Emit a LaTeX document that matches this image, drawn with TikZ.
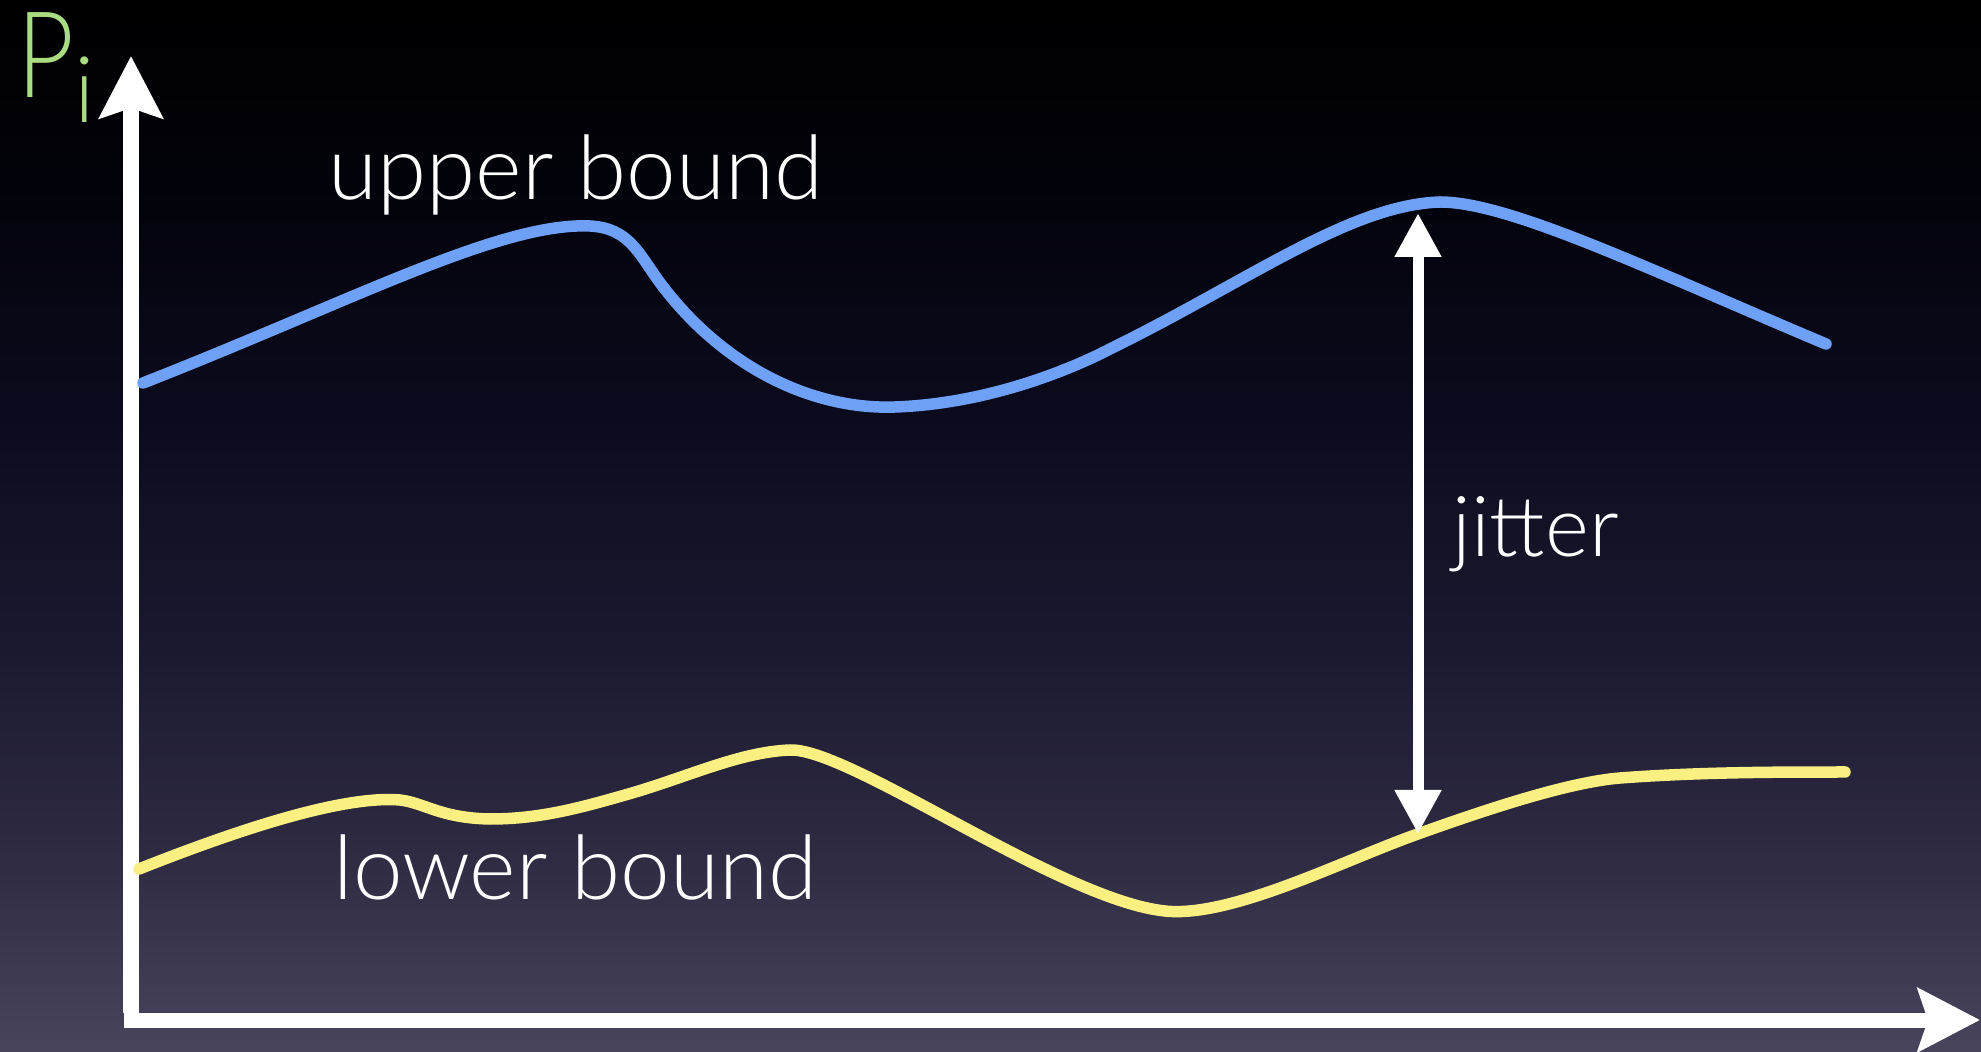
\documentclass[tikz,border=0pt]{standalone}
\usepackage{fontspec}
\setmainfont{Lato}[UprightFont=* Light]
\usetikzlibrary{arrows.meta}

\definecolor{bgA}{RGB}{0,0,0}
\definecolor{bgB}{RGB}{2,2,10}
\definecolor{bgC}{RGB}{12,11,30}
\definecolor{bgD}{RGB}{27,25,47}
\definecolor{bgE}{RGB}{45,42,66}
\definecolor{bgF}{RGB}{72,68,92}
\definecolor{upcol}{RGB}{110,160,245}
\definecolor{lowcol}{RGB}{250,240,130}
\definecolor{pcol}{RGB}{170,220,130}

\tikzset{
  axis/.style={draw=white, line width=8pt, -{Stealth[length=31pt,width=31.5pt,inset=5pt]}},
  span/.style={draw=white, line width=5.5pt, {Triangle[length=22pt,width=22pt]}-{Triangle[length=22pt,width=22pt]}},
  bound/.style={line width=5.75pt, line cap=round},
  label/.style={text=white, inner sep=0pt, anchor=base west},
}

\begin{document}
\begin{tikzpicture}[x=0.5pt,y=-0.5pt]
  \useasboundingbox (0,0) rectangle (1981,1052);
  % background: black at the top fading into a dusky violet
  \fill[top color=bgA, bottom color=bgB] (0,0) rectangle (1981,181);
  \fill[top color=bgB, bottom color=bgC] (0,180) rectangle (1981,421);
  \fill[top color=bgC, bottom color=bgD] (0,420) rectangle (1981,651);
  \fill[top color=bgD, bottom color=bgE] (0,650) rectangle (1981,851);
  \fill[top color=bgE, bottom color=bgF] (0,850) rectangle (1981,1052);

  % axes
  \coordinate (ybot) at (131,1013);
  \coordinate (ytop) at (131,56);
  \coordinate (xleft) at (124,1020);
  \coordinate (xright) at (1980,1020);
  \draw[axis] (ybot) -- (ytop);
  \draw[axis, line width=7.5pt] (xleft) -- (xright);

  \node[label, text=pcol, font=\fontsize{60pt}{60pt}\selectfont] (pi) at (17,98)
    {\scalebox{0.82}[1]{P}\raisebox{-12.5pt}{\fontsize{46pt}{46pt}\selectfont i}};

  % upper bound
  \draw[bound, upcol] (143,383)
    .. controls (350,302) and (500,222) .. (590,226)
    .. controls (628,228) and (638,252) .. (658,280)
    .. controls (720,365) and (810,410) .. (895,407)
    .. controls (980,404) and (1060,375) .. (1112,348)
    .. controls (1250,280) and (1350,205) .. (1440,202)
    .. controls (1510,202) and (1650,270) .. (1826,344);

  % lower bound
  \draw[bound, lowcol] (139,869)
    .. controls (230,833) and (340,795) .. (400,800)
    .. controls (425,803) and (440,818) .. (490,819)
    .. controls (540,819) and (580,808) .. (632,793)
    .. controls (690,776) and (740,752) .. (790,750)
    .. controls (850,748) and (1060,900) .. (1165,911)
    .. controls (1230,918) and (1340,862) .. (1415,835)
    .. controls (1490,808) and (1570,782) .. (1620,778)
    .. controls (1700,772) and (1780,772) .. (1845,772);

  \node[label, font=\fontsize{44.5pt}{44.5pt}\selectfont] (up) at (328,200) {upper bound};
  \node[label, font=\fontsize{44.5pt}{44.5pt}\selectfont] (low) at (333,899) {lower bound};

  % jitter span
  \coordinate (jtop) at (1418,213);
  \coordinate (jbot) at (1418,834);
  \draw[span] (jtop) -- (jbot);
  \node[label, font=\fontsize{42pt}{42pt}\selectfont] (jit) at (1452,557) {jitter};
\end{tikzpicture}
\end{document}
